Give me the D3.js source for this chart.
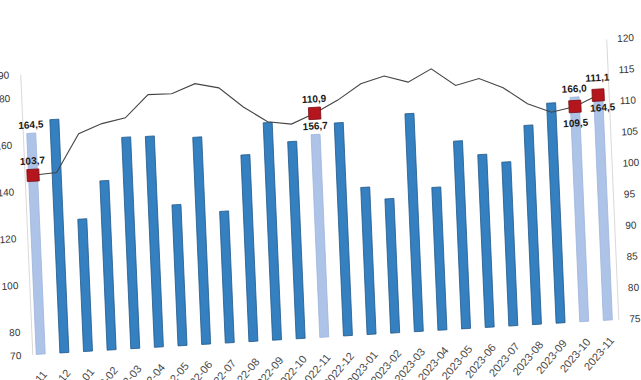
<!DOCTYPE html>
<html>
<head>
<meta charset="utf-8">
<script src="https://cdn.jsdelivr.net/npm/d3@7"></script>
<style>
  body { margin: 0; background: #fff; }
  svg { display: block; font-family: "Liberation Sans", Arial, sans-serif; }
</style>
</head>
<body>
<div class="chart"></div>
<script>
const months = ['2021-11','2021-12','2022-01','2022-02','2022-03','2022-04','2022-05','2022-06',
  '2022-07','2022-08','2022-09','2022-10','2022-11','2022-12','2023-01','2023-02','2023-03',
  '2023-04','2023-05','2023-06','2023-07','2023-08','2023-09','2023-10','2023-11']
const barValues = [164.5,169.8,126.6,142.4,160.4,160.2,130.3,158.6,126.3,149.8,163.0,154.3,
  156.7,161.1,132.9,127.4,163.2,131.1,150.3,143.9,140.1,155.2,164.1,166.0,164.5]
const lineValues = [103.7,103.9,109.9,111.3,112.0,115.5,115.4,116.8,115.9,112.6,110.0,109.4,
  110.9,112.8,115.2,116.2,115.0,116.9,114.0,114.9,113.2,110.4,108.8,109.5,111.1]
const highlighted = ['2021-11','2022-11','2023-10','2023-11']
const leftTicks = [70,80,100,120,140,160,180,190]
const rightTicks = [75,80,85,90,95,100,105,110,115,120]

const width = 641
const height = 380
const data = months.map((m,i)=>({month:m, bar:barValues[i], line:lineValues[i], hi:highlighted.includes(m)}))
const fmt = v => v.toFixed(1).replace('.', ',')

const svg = d3.select('.chart').append('svg').attr('width', width).attr('height', height)
// the reference is a slightly tilted photo of the chart
const g = svg.append('g').attr('transform', 'matrix(1,-0.06,0.043,1,-8.2,19.2)')

const x = d3.scaleBand().domain(months).range([25, 611]).paddingInner(0.62).paddingOuter(0.21)
const yL = d3.scaleLinear().domain([70, 190]).range([337, 56.5])
const yR = d3.scaleLinear().domain([75, 120]).range([337, 56.5])

const axL = g.append('g').attr('transform', 'translate(26,0)')
  .call(d3.axisLeft(yL).tickValues(leftTicks).tickSize(0).tickPadding(11))
const axR = g.append('g').attr('transform', 'translate(612,0)')
  .call(d3.axisRight(yR).tickValues(rightTicks).tickSize(0).tickPadding(11))
const axB = g.append('g').attr('transform', 'translate(0,337)')
  .call(d3.axisBottom(x).tickSize(0).tickPadding(0))
axB.select('.domain').remove()
axB.selectAll('text')
  .attr('text-anchor', 'end')
  .attr('transform', 'translate(6,21) rotate(-47)')
  .attr('dy', 0)
  .attr('font-size', 11)
  .attr('fill', '#4a4a4a')
;[axL, axR].forEach(a=>{
  a.select('.domain').attr('stroke', '#d9d9d9')
  a.selectAll('text').attr('font-size', 10).attr('fill', '#333')
})

g.selectAll('rect.bar')
  .data(data)
  .enter()
  .append('rect')
  .attr('class', 'bar')
  .attr('x', d=>x(d.month))
  .attr('y', d=>yL(d.bar))
  .attr('width', x.bandwidth())
  .attr('height', d=>yL(70)-yL(d.bar))
  .attr('fill', d=>d.hi?'#aec3e8':'#3480c0')
  .attr('stroke', d=>d.hi?'#9fb5dc':'#22598a')
  .attr('stroke-width', 0.8)

const cx = d => x(d.month) + x.bandwidth()/2
const hiData = data.filter(d=>d.hi)

g.selectAll('text.barlabel')
  .data(hiData)
  .enter()
  .append('text')
  .attr('class', 'barlabel')
  .attr('x', d=>d.month==='2023-11'?cx(d)+4:cx(d))
  .attr('y', d=>d.month==='2023-11'?yL(d.bar)+12:yL(d.bar)-5)
  .attr('text-anchor', 'middle')
  .attr('font-size', 10)
  .attr('font-weight', 'bold')
  .attr('fill', '#1a1a1a')
  .text(d=>fmt(d.bar))

g.append('path')
  .datum(data)
  .attr('fill', 'none')
  .attr('stroke', '#444')
  .attr('stroke-width', 1.1)
  .attr('d', d3.line().x(cx).y(d=>yR(d.line)))

g.selectAll('rect.marker')
  .data(hiData)
  .enter()
  .append('rect')
  .attr('class', 'marker')
  .attr('x', d=>cx(d)-6)
  .attr('y', d=>yR(d.line)-6)
  .attr('width', 12)
  .attr('height', 12)
  .attr('fill', '#b5161e')
  .attr('stroke', '#7d0c10')
  .attr('stroke-width', 0.8)

g.selectAll('text.linelabel')
  .data(hiData)
  .enter()
  .append('text')
  .attr('class', 'linelabel')
  .attr('x', cx)
  .attr('y', d=>{
    if (d.month==='2023-10') return yR(d.line)+20
    if (d.month==='2023-11') return yR(d.line)-14
    return yR(d.line)-11
  })
  .attr('text-anchor', 'middle')
  .attr('font-size', 10)
  .attr('font-weight', 'bold')
  .attr('fill', '#1a1a1a')
  .text(d=>fmt(d.line))
</script>
</body>
</html>
